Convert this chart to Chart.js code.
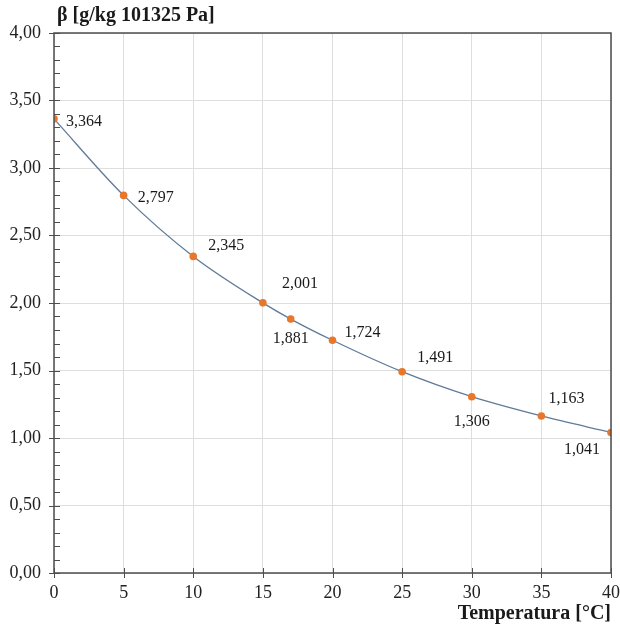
<!DOCTYPE html>
<html>
<head>
<meta charset="utf-8">
<script src="https://cdn.jsdelivr.net/npm/chart.js@4.4.1/dist/chart.umd.min.js"></script>
<style>
  html, body { margin: 0; padding: 0; background: #fff; }
  #wrap { width: 620px; height: 627px; }
</style>
</head>
<body>
<div id="wrap"><canvas id="betaChart" width="620" height="627"></canvas></div>
<script>
// data
const temps = [0, 5, 10, 15, 17, 20, 25, 30, 35, 40];
const beta = [3.364, 2.797, 2.345, 2.001, 1.881, 1.724, 1.491, 1.306, 1.163, 1.041];
const xTicks = [0, 5, 10, 15, 20, 25, 30, 35, 40];
const yTicks = [0, 0.5, 1, 1.5, 2, 2.5, 3, 3.5, 4];

// where each value label sits relative to its point (dx, dy, align)
const labelPlace = [
  [12, 3, "left"], [14, 2, "left"], [15, -11, "left"], [19, -19, "left"],
  [0, 20, "center"], [12, -7, "left"], [15, -14, "left"], [0, 25, "center"],
  [7, -17, "left"], [-11, 17, "right"]
];

const SERIF = "'Liberation Serif', 'Times New Roman', serif";
const fmt = (v, d) => v.toFixed(d).replace(".", ",");

// frame, tick marks, value labels and axis titles
const decorations = {
  id: "decorations",
  afterDatasetsDraw(chart) {
    const { ctx, chartArea: a, scales } = chart;
    const x = scales.x, y = scales.y;
    ctx.save();
    ctx.strokeStyle = "#4d4d4d";
    ctx.lineWidth = 1.5;
    ctx.strokeRect(a.left, a.top, a.right - a.left, a.bottom - a.top);

    ctx.lineWidth = 1;
    ctx.beginPath();
    for (let v = 0; v <= 4.001; v += 0.1) {
      const py = Math.round(y.getPixelForValue(v)) + 0.5;
      const major = Math.abs(v * 2 - Math.round(v * 2)) < 0.001;
      ctx.moveTo(a.left - (major ? 5 : 0), py);
      ctx.lineTo(a.left + 6, py);
    }
    xTicks.forEach((t) => {
      const px = Math.round(x.getPixelForValue(t)) + 0.5;
      ctx.moveTo(px, a.bottom - 5);
      ctx.lineTo(px, a.bottom + 5);
    });
    ctx.stroke();

    ctx.fillStyle = "#1a1a1a";
    ctx.font = "16px " + SERIF;
    ctx.textBaseline = "middle";
    const meta = chart.getDatasetMeta(1);
    meta.data.forEach((pt, i) => {
      const [dx, dy, align] = labelPlace[i];
      ctx.textAlign = align;
      ctx.fillText(fmt(beta[i], 3), pt.x + dx, pt.y + dy);
    });

    ctx.font = "bold 20px " + SERIF;
    ctx.textAlign = "left";
    ctx.fillText("β [g/kg 101325 Pa]", a.left + 3, 16);
    ctx.textAlign = "right";
    ctx.fillText("Temperatura [°C]", a.right, 614);
    ctx.restore();
  }
};

const points = temps.map((t, i) => ({ x: t, y: beta[i] }));

new Chart(document.getElementById("betaChart"), {
  type: "scatter",
  data: {
    datasets: [
      {
        data: points,
        showLine: true,
        borderColor: "#5f7b98",
        borderWidth: 1.3,
        tension: 0.4,
        cubicInterpolationMode: "monotone",
        pointRadius: 0,
        order: 2
      },
      {
        data: points,
        showLine: false,
        pointRadius: 3.8,
        pointBackgroundColor: "#e8762b",
        pointBorderWidth: 0,
        order: 1
      }
    ]
  },
  options: {
    responsive: false,
    animation: false,
    layout: { padding: { top: 33, right: 9, left: 0, bottom: 0 } },
    plugins: { legend: { display: false }, tooltip: { enabled: false } },
    scales: {
      x: {
        type: "linear",
        min: 0,
        max: 40,
        afterBuildTicks: (s) => { s.ticks = xTicks.map((v) => ({ value: v })); },
        afterFit: (s) => { s.height = 54; s.paddingRight = 0; s.paddingLeft = 0; },
        grid: { color: "#dedede", drawTicks: false },
        border: { display: false },
        ticks: {
          padding: 9,
          color: "#222",
          font: { family: SERIF, size: 18 },
          maxRotation: 0
        }
      },
      y: {
        min: 0,
        max: 4,
        afterBuildTicks: (s) => { s.ticks = yTicks.map((v) => ({ value: v })); },
        afterFit: (s) => { s.width = 54; },
        grid: { color: "#dedede", drawTicks: false },
        border: { display: false },
        ticks: {
          padding: 13,
          color: "#222",
          font: { family: SERIF, size: 18 },
          callback: (v) => fmt(v, 2)
        }
      }
    }
  },
  plugins: [decorations]
});
</script>
</body>
</html>
